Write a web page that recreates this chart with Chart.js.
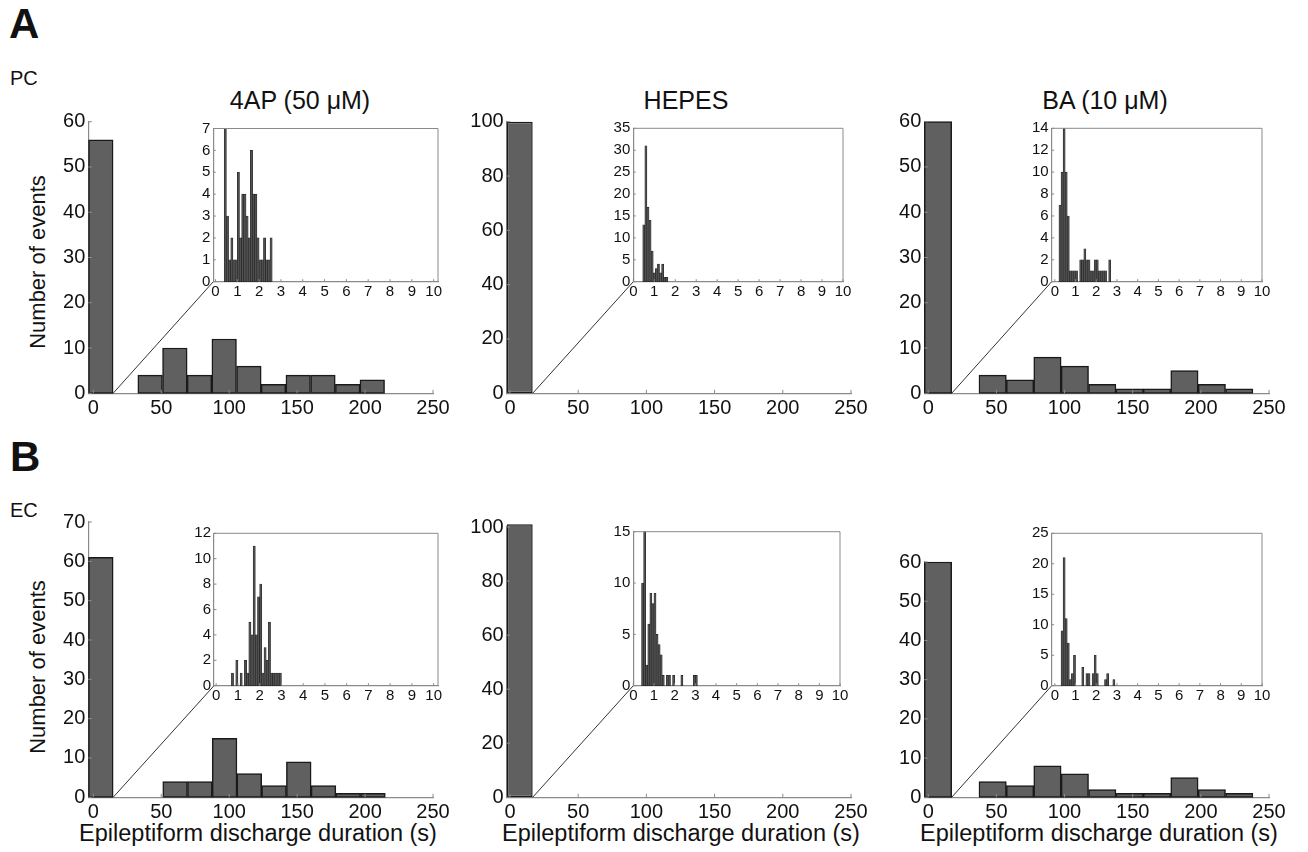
<!DOCTYPE html>
<html><head><meta charset="utf-8">
<script src="https://cdn.jsdelivr.net/npm/chart.js@4/dist/chart.umd.min.js"></script>
<style>
html,body{margin:0;padding:0;background:#fff}
body{width:1308px;height:852px;position:relative;overflow:hidden;font-family:"Liberation Sans",Arial,Helvetica,sans-serif;color:#111}
canvas{position:absolute}
.t{position:absolute;white-space:nowrap;line-height:1;transform:translate(-50%,-50%)}
.l{position:absolute;white-space:nowrap;line-height:1}
</style></head><body>
<div class="l" style="left:9px;top:3px;font-size:42px;font-weight:bold">A</div>
<div class="l" style="left:10px;top:436px;font-size:42px;font-weight:bold">B</div>
<div class="l" style="left:10px;top:68px;font-size:20px">PC</div>
<div class="l" style="left:10px;top:500px;font-size:20px">EC</div>
<div class="t" style="left:300px;top:100px;font-size:25px">4AP (50 μM)</div>
<div class="t" style="left:686px;top:100px;font-size:25px">HEPES</div>
<div class="t" style="left:1105px;top:100px;font-size:25px">BA (10 μM)</div>
<div class="t" style="left:38px;top:262px;font-size:22px;transform:translate(-50%,-50%) rotate(-90deg)">Number of events</div>
<div class="t" style="left:38px;top:667px;font-size:22px;transform:translate(-50%,-50%) rotate(-90deg)">Number of events</div>
<div class="t" style="left:258px;top:834px;font-size:23.5px">Epileptiform discharge duration (s)</div>
<div class="t" style="left:681px;top:834px;font-size:23.5px">Epileptiform discharge duration (s)</div>
<div class="t" style="left:1099px;top:834px;font-size:23.5px">Epileptiform discharge duration (s)</div>

<canvas id="mA1"></canvas><canvas id="mA2"></canvas><canvas id="mA3"></canvas>
<canvas id="mB1"></canvas><canvas id="mB2"></canvas><canvas id="mB3"></canvas>
<canvas id="iA1"></canvas><canvas id="iA2"></canvas><canvas id="iA3"></canvas>
<canvas id="iB1"></canvas><canvas id="iB2"></canvas><canvas id="iB3"></canvas>

<script>
// ---------- tick labels ----------
const mainXTicks = [0, 50, 100, 150, 200, 250];
const insetXTicks = [0, 1, 2, 3, 4, 5, 6, 7, 8, 9, 10];
const yTicksA1 = [0, 10, 20, 30, 40, 50, 60];
const yTicksA2 = [0, 20, 40, 60, 80, 100];
const yTicksA3 = [0, 10, 20, 30, 40, 50, 60];
const yTicksB1 = [0, 10, 20, 30, 40, 50, 60, 70];
const yTicksB2 = [0, 20, 40, 60, 80, 100];
const yTicksB3 = [0, 10, 20, 30, 40, 50, 60];
const yTicksIA1 = [0, 1, 2, 3, 4, 5, 6, 7];
const yTicksIA2 = [0, 5, 10, 15, 20, 25, 30, 35];
const yTicksIA3 = [0, 2, 4, 6, 8, 10, 12, 14];
const yTicksIB1 = [0, 2, 4, 6, 8, 10, 12];
const yTicksIB2 = [0, 5, 10, 15];
const yTicksIB3 = [0, 5, 10, 15, 20, 25];

// ---------- main histograms (bin centres in s, counts) ----------
const pc4apCenters = [5.5, 41.8, 60.0, 78.1, 96.3, 114.5, 132.6, 150.8, 169.0, 187.2, 205.3];
const pc4apCounts  = [56, 4, 10, 4, 12, 6, 2, 4, 4, 2, 3];
const pcHepesCenters = [7.1];
const pcHepesCounts  = [100];
const pcBaCenters = [7.15, 47.25, 67.35, 87.45, 107.55, 127.65, 147.75, 167.85, 187.95, 208.05, 228.15];
const pcBaCounts  = [60, 4, 3, 8, 6, 2, 1, 1, 5, 2, 1];

const ec4apCenters = [5.5, 60.2, 78.4, 96.6, 114.8, 133.0, 151.2, 169.4, 187.6, 205.8];
const ec4apCounts  = [61, 4, 4, 15, 6, 3, 9, 3, 1, 1];
const ecHepesCenters = [7.1];
const ecHepesCounts  = [101];
const ecBaCenters = [7.15, 47.25, 67.35, 87.45, 107.55, 127.65, 147.75, 167.85, 187.95, 208.05, 228.15];
const ecBaCounts  = [60, 4, 3, 8, 6, 2, 1, 1, 5, 2, 1];

const hepesBinWidth = 19.1;

// ---------- inset histograms (0.1 s bins) ----------
const pc4apInCenters = [0.45,0.55,0.65,0.75,0.85,0.95,1.05,1.15,1.25,1.35,1.45,1.55,1.65,1.75,1.85,1.95,2.05,2.15,2.25,2.35,2.45,2.55];
const pc4apInCounts  = [7,3,1,2,1,1,5,2,4,4,3,2,6,4,4,2,1,1,2,1,1,2];
const pcHepesInCenters = [0.5,0.6,0.7,0.8,0.9,1.0,1.1,1.2,1.3,1.4,1.5,1.6];
const pcHepesInCounts  = [13,31,17,14,7,2,3,4,2,4,1,1];
const pcBaInCenters = [0.25,0.35,0.45,0.55,0.65,0.75,0.85,0.95,1.05,1.15,1.25,1.35,1.45,1.55,1.65,1.75,1.85,1.95,2.05,2.15,2.25,2.35,2.45,2.55,2.65];
const pcBaInCounts  = [7,10,14,10,6,1,1,1,1,0,2,2,3,2,2,1,1,2,2,1,1,1,1,0,2];

const ec4apInCenters = [0.75,0.85,0.95,1.05,1.15,1.25,1.35,1.45,1.55,1.65,1.75,1.85,1.95,2.05,2.15,2.25,2.35,2.45,2.55,2.65,2.75,2.85,2.95];
const ec4apInCounts  = [1,0,2,0,1,0,2,1,5,4,11,4,7,8,1,3,2,5,1,1,1,1,1];
const ecHepesInCenters = [0.45,0.55,0.65,0.75,0.85,0.95,1.05,1.15,1.25,1.35,1.45,1.55,1.65,1.75,1.85,1.95,2.05,2.15,2.25,2.35,2.45,2.55,2.65,2.75,2.85,2.95,3.05];
const ecHepesInCounts  = [10,15,2,6,9,8,9,5,4,3,1,0,1,1,0,1,0,0,0,1,0,0,0,0,0,1,1];
const ecBaInCenters = [0.35,0.45,0.55,0.65,0.75,0.85,0.95,1.05,1.15,1.25,1.35,1.45,1.55,1.65,1.75,1.85,1.95,2.05,2.15,2.25,2.35,2.45,2.55,2.65,2.75,2.85];
const ecBaInCounts  = [9,21,11,7,1,2,5,0,0,0,3,0,2,2,0,2,5,2,0,0,0,1,2,0,0,1];

// ---------- rendering ----------
const FONT = '"Liberation Sans", Arial, Helvetica, sans-serif';
Chart.defaults.font.family = FONT;
Chart.defaults.color = '#111';
const AXIS = '#8a8a8a';
const insetOf = {};

const linkPlugin = {
  id: 'linkLine',
  afterDatasetsDraw(chart) {
    const inset = insetOf[chart.canvas.id];
    if (!inset) return;
    const bar = chart.getDatasetMeta(0).data[0];
    const x0 = bar.x + bar.width / 2;
    const y0 = chart.scales.y.getPixelForValue(0);
    const dx = inset.canvas.offsetLeft - chart.canvas.offsetLeft;
    const dy = inset.canvas.offsetTop - chart.canvas.offsetTop;
    const ctx = chart.ctx;
    ctx.save();
    ctx.strokeStyle = '#333';
    ctx.lineWidth = 1;
    ctx.beginPath();
    ctx.moveTo(x0, y0);
    ctx.lineTo(inset.chartArea.left + dx, inset.chartArea.bottom + dy);
    ctx.stroke();
    ctx.restore();
  }
};
// box (insets) and small inward tick marks (MATLAB style)
const framePlugin = {
  id: 'frame',
  afterDraw(chart) {
    const isInset = chart.canvas.id.startsWith('i');
    const a = chart.chartArea, ctx = chart.ctx;
    const xs = chart.scales.x, ys = chart.scales.y;
    const len = isInset ? 2.5 : 3.5;
    ctx.save();
    ctx.strokeStyle = AXIS; ctx.lineWidth = 1;
    ctx.beginPath();
    if (isInset) {
      ctx.moveTo(a.left, a.top); ctx.lineTo(a.right, a.top); ctx.lineTo(a.right, a.bottom);
    }
    xs.ticks.forEach(t => {
      const px = xs.getPixelForValue(t.value);
      ctx.moveTo(px, a.bottom); ctx.lineTo(px, a.bottom - len);
    });
    ys.ticks.forEach(t => {
      const py = ys.getPixelForValue(t.value);
      ctx.moveTo(a.left, py); ctx.lineTo(a.left + len, py);
    });
    ctx.stroke();
    ctx.restore();
  }
};

function hist(id, area, centers, counts, xr, yMax, xTicks, yTicks, inset, binWidth) {
  const pad = inset ? {l: 40, r: 16, t: 10, b: 26} : {l: 56, r: 30, t: 14, b: 40};
  const cv = document.getElementById(id);
  const cl = Math.floor(area.L - pad.l), ct = Math.floor(area.T - pad.t);
  const padL = area.L - cl, padT = area.T - ct;
  const w = Math.ceil(area.R - cl + pad.r), h = Math.ceil(area.B - ct + pad.b);
  const padR = w - (area.R - cl), padB = h - (area.B - ct);
  cv.width = w; cv.height = h;
  cv.style.width = w + 'px'; cv.style.height = h + 'px';
  cv.style.left = cl + 'px'; cv.style.top = ct + 'px';

  // bar width: bin width relative to the smallest spacing the library uses
  let minSp = xTicks[1] - xTicks[0];
  for (let i = 1; i < centers.length; i++) minSp = Math.min(minSp, centers[i] - centers[i - 1]);
  const bp = binWidth ? Math.min(1, binWidth / minSp) : 1;

  const pts = centers.map((c, i) => ({x: c, y: counts[i]})).filter(p => p.y > 0);
  const fs = inset ? 15 : 20;
  return new Chart(cv, {
    type: 'bar',
    data: {datasets: [{
      data: pts,
      backgroundColor: inset ? '#505050' : '#606060',
      borderColor: inset ? '#222' : '#1a1a1a',
      borderWidth: inset ? 0.6 : 1.5,
      borderSkipped: false,
      barPercentage: bp,
      categoryPercentage: 1,
      clip: false
    }]},
    options: {
      responsive: false, animation: false, devicePixelRatio: 1,
      events: [],
      layout: {padding: {left: 0, top: padT, right: padR, bottom: 0}},
      plugins: {legend: {display: false}, tooltip: {enabled: false}},
      scales: {
        x: {
          type: 'linear', min: xr[0], max: xr[1], offset: false,
          grid: {display: false, drawTicks: false, offset: false},
          border: {display: true, color: AXIS, width: 1.2},
          ticks: {font: {size: fs, lineHeight: 1}, padding: inset ? 3 : 5, maxRotation: 0, autoSkip: false, color: '#111'},
          afterBuildTicks: s => { s.ticks = xTicks.map(v => ({value: v})); },
          afterFit: s => { s.height = padB; s.paddingLeft = 0; s.paddingRight = 0; s.paddingTop = 0; s.paddingBottom = 0; }
        },
        y: {
          min: 0, max: yMax,
          grid: {display: false, drawTicks: false},
          border: {display: true, color: AXIS, width: 1.2},
          ticks: {font: {size: fs, lineHeight: 1}, padding: 3, autoSkip: false, color: '#111'},
          afterBuildTicks: s => { s.ticks = yTicks.map(v => ({value: v})); },
          afterFit: s => { s.width = padL; s.paddingLeft = 0; s.paddingRight = 0; s.paddingTop = 0; s.paddingBottom = 0; }
        }
      }
    },
    plugins: [linkPlugin, framePlugin]
  });
}

// insets first (the link lines of the main panels point to them)
insetOf.mA1 = hist('iA1', {L: 213.3, R: 438, T: 128.5, B: 281.7}, pc4apInCenters, pc4apInCounts, [-0.1, 10.2], 7, insetXTicks, yTicksIA1, true);
insetOf.mA2 = hist('iA2', {L: 633.3, R: 843, T: 128.3, B: 281.7}, pcHepesInCenters, pcHepesInCounts, [0, 10], 35, insetXTicks, yTicksIA2, true);
insetOf.mA3 = hist('iA3', {L: 1051.7, R: 1262, T: 128.3, B: 281.7}, pcBaInCenters, pcBaInCounts, [-0.15, 10], 14, insetXTicks, yTicksIA3, true);
insetOf.mB1 = hist('iB1', {L: 214, R: 438, T: 533.3, B: 685.7}, ec4apInCenters, ec4apInCounts, [-0.1, 10.2], 12, insetXTicks, yTicksIB1, true);
insetOf.mB2 = hist('iB2', {L: 633.3, R: 840, T: 531.7, B: 685.7}, ecHepesInCenters, ecHepesInCounts, [0, 10], 15, insetXTicks, yTicksIB2, true);
insetOf.mB3 = hist('iB3', {L: 1051.7, R: 1262, T: 533.3, B: 685.7}, ecBaInCenters, ecBaInCounts, [-0.15, 10], 25, insetXTicks, yTicksIB3, true);

hist('mA1', {L: 88.3, R: 433, T: 121.7, B: 393.3}, pc4apCenters, pc4apCounts, [-3.7, 250], 60, mainXTicks, yTicksA1, false);
hist('mA2', {L: 506.7, R: 851, T: 121.7, B: 393.3}, pcHepesCenters, pcHepesCounts, [-2.4, 250], 100, mainXTicks, yTicksA2, false, hepesBinWidth);
hist('mA3', {L: 924.3, R: 1269, T: 121.7, B: 393.3}, pcBaCenters, pcBaCounts, [-2.9, 250], 60, mainXTicks, yTicksA3, false);
hist('mB1', {L: 88.3, R: 433, T: 522, B: 797.3}, ec4apCenters, ec4apCounts, [-3.7, 250], 70, mainXTicks, yTicksB1, false);
hist('mB2', {L: 506.7, R: 851, T: 527, B: 797.3}, ecHepesCenters, ecHepesCounts, [-2.4, 250], 100, mainXTicks, yTicksB2, false, hepesBinWidth);
hist('mB3', {L: 924.3, R: 1269, T: 562, B: 797.3}, ecBaCenters, ecBaCounts, [-2.9, 250], 60, mainXTicks, yTicksB3, false);
</script>
</body></html>
